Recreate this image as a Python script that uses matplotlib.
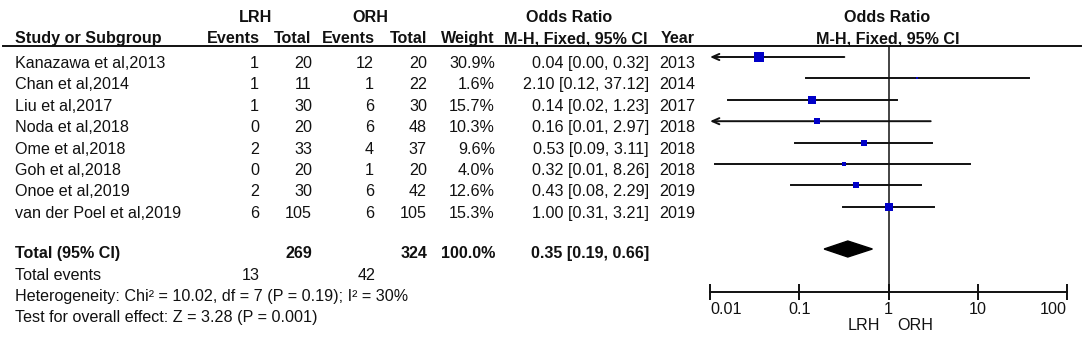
import numpy as np
import matplotlib
matplotlib.use("Agg")
import matplotlib.pyplot as plt
from matplotlib.patches import Polygon

plt.rcParams['font.family'] = ['Liberation Sans', 'DejaVu Sans']

# data
studies = ["Kanazawa et al,2013", "Chan et al,2014", "Liu et al,2017", "Noda et al,2018",
           "Ome et al,2018", "Goh et al,2018", "Onoe et al,2019", "van der Poel et al,2019"]
lrh_events = [1, 1, 1, 0, 2, 0, 2, 6]
lrh_total = [20, 11, 30, 20, 33, 20, 30, 105]
orh_events = [12, 1, 6, 6, 4, 1, 6, 6]
orh_total = [20, 22, 30, 48, 37, 20, 42, 105]
weights = [30.9, 1.6, 15.7, 10.3, 9.6, 4.0, 12.6, 15.3]
odds = [0.0351, 2.10, 0.138, 0.159, 0.532, 0.317, 0.43, 1.00]
ci_lo = [0.004, 0.12, 0.016, 0.0086, 0.09, 0.0115, 0.08, 0.31]
ci_hi = [0.32, 37.12, 1.23, 2.97, 3.11, 8.26, 2.29, 3.21]
years = [2013, 2014, 2017, 2018, 2018, 2018, 2019, 2019]
pooled = (0.35, 0.19, 0.66)
ticks = [0.01, 0.1, 1, 10, 100]
tick_labels = ["0.01", "0.1", "1", "10", "100"]
heterogeneity = "Heterogeneity: Chi\u00b2 = 10.02, df = 7 (P = 0.19); I\u00b2 = 30%"
overall = "Test for overall effect: Z = 3.28 (P = 0.001)"

W, H = 1084, 349
fig = plt.figure(figsize=(W / 100, H / 100), dpi=100)
bg = fig.add_axes([0, 0, 1, 1])
bg.set_xlim(0, W)
bg.set_ylim(H, 0)
bg.axis('off')

FS = 11.6
def txt(x, y, s, ha='right', bold=False, **k):
    bg.text(x, y, s, ha=ha, va='baseline', fontsize=FS,
            fontweight='bold' if bold else 'normal', color='#111111', **k)

# headers
txt(256, 22, "LRH", ha='center', bold=True)
txt(370, 22, "ORH", ha='center', bold=True)
txt(569, 22, "Odds Ratio", ha='center', bold=True)
txt(887, 22, "Odds Ratio", ha='center', bold=True)
txt(15, 43, "Study or Subgroup", ha='left', bold=True)
for x, s in [(260, "Events"), (311, "Total"), (375, "Events"), (427, "Total"),
             (495, "Weight"), (648, "M-H, Fixed, 95% CI"), (695, "Year")]:
    txt(x, 43, s, bold=True)
txt(888, 43, "M-H, Fixed, 95% CI", ha='center', bold=True)
bg.plot([3, 1081], [46, 46], color='#111111', lw=1.4)

step = 21.4
base0 = 68
for i, name in enumerate(studies):
    y = base0 + step * i
    txt(15, y, name, ha='left')
    txt(259, y, str(lrh_events[i]))
    txt(312, y, str(lrh_total[i]))
    txt(374, y, str(orh_events[i]))
    txt(427, y, str(orh_total[i]))
    txt(495, y, f"{weights[i]:.1f}%")
    txt(649, y, f"{odds[i]:.2f} [{ci_lo[i]:.2f}, {ci_hi[i]:.2f}]")
    txt(695, y, str(years[i]))

yt = 258
txt(15, yt, "Total (95% CI)", ha='left', bold=True)
txt(312, yt, str(sum(lrh_total)), bold=True)
txt(427, yt, str(sum(orh_total)), bold=True)
txt(495, yt, f"{sum(weights):.1f}%", bold=True)
txt(649, yt, f"{pooled[0]:.2f} [{pooled[1]:.2f}, {pooled[2]:.2f}]", bold=True)
txt(15, 280, "Total events", ha='left')
txt(260, 280, str(sum(lrh_events)))
txt(376, 280, str(sum(orh_events)))
txt(15, 301, heterogeneity, ha='left')
txt(15, 322, overall, ha='left')

# forest plot
x0, x1, ytop, ybot = 710, 1067, 46, 292
ax = fig.add_axes([x0 / W, 1 - ybot / H, (x1 - x0) / W, (ybot - ytop) / H])
ax.set_xscale('log')
ax.set_xlim(0.01, 100)
ax.set_ylim(ybot, ytop)
ax.patch.set_alpha(0)
for s in ['top', 'right', 'left']:
    ax.spines[s].set_visible(False)
ax.spines['bottom'].set_linewidth(1.4)
ax.spines['bottom'].set_color('#111111')
ax.set_yticks([])
ax.set_xticks(ticks)
ax.set_xticklabels(tick_labels, fontsize=FS, color='#111111')
ax.minorticks_off()
ax.tick_params(axis='x', direction='inout', length=11, width=1.4, pad=2, color='#111111')
labs = ax.get_xticklabels()
labs[0].set_ha('left')
labs[-1].set_ha('right')

ax.axvline(1, color='#111111', lw=1.1, zorder=1)

for i in range(len(studies)):
    y = base0 - 11 + step * i
    lo = max(ci_lo[i], 0.01)
    hi = min(ci_hi[i], 100)
    if ci_lo[i] < 0.01:
        ax.annotate('', xy=(lo, y), xytext=(hi, y),
                    arrowprops=dict(arrowstyle='->,head_length=0.5,head_width=0.22',
                                    color='#111111', lw=1.4, shrinkA=0, shrinkB=0))
    else:
        ax.plot([lo, hi], [y, y], color='#111111', lw=1.4, zorder=2)
    ax.plot(odds[i], y, 's', color='#0000c8', ms=1.4 * np.sqrt(weights[i]),
            mew=0, zorder=3)

yd = 249
pts = [(pooled[1], yd), (pooled[0], yd - 8), (pooled[2], yd), (pooled[0], yd + 8)]
ax.add_patch(Polygon(pts, closed=True, color='#000000', zorder=3))

ax.text(0.8, 330, "LRH", ha='right', va='baseline', fontsize=FS, color='#111111',
        clip_on=False)
ax.text(1.25, 330, "ORH", ha='left', va='baseline', fontsize=FS, color='#111111',
        clip_on=False)

fig.savefig("out.png", dpi=100)
